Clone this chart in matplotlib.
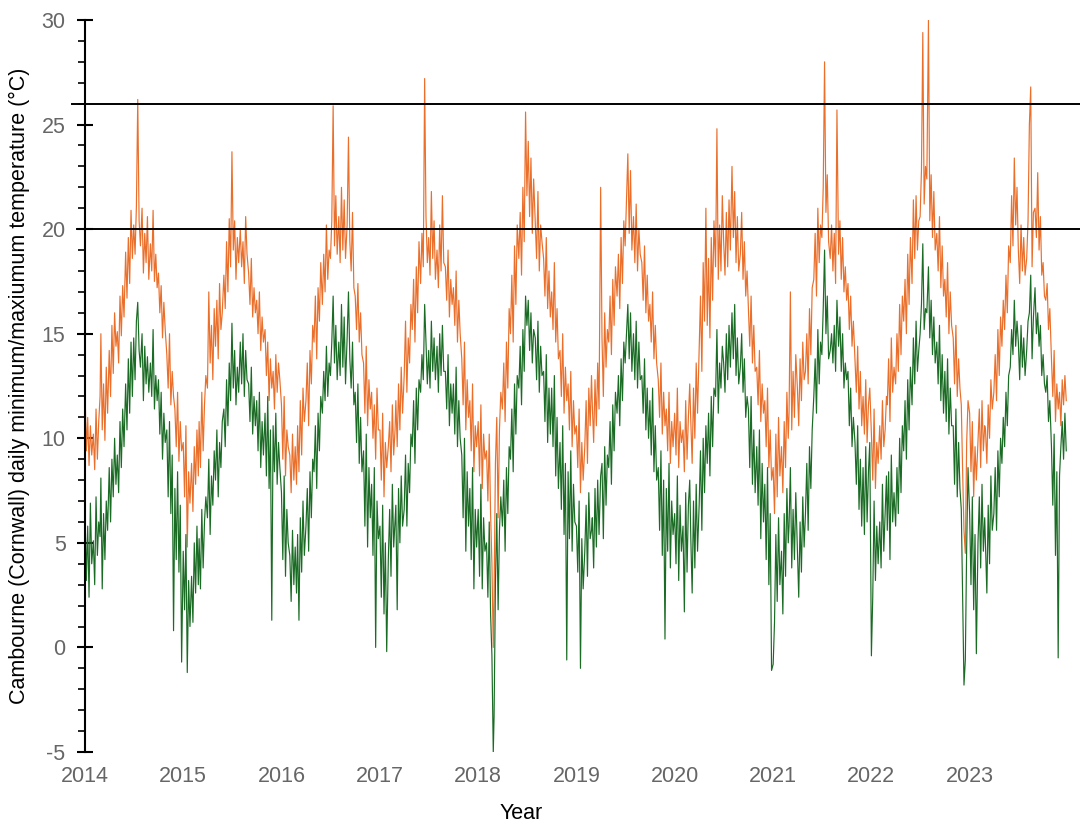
import matplotlib
matplotlib.use("Agg")
import matplotlib.pyplot as plt
from matplotlib.ticker import MultipleLocator
import pandas as pd

plt.rcParams['font.family'] = ['Liberation Sans', 'DejaVu Sans']
plt.rcParams['axes.unicode_minus'] = False

years = list(range(2014, 2024))
days_in_month = [1, 6, 11, 16, 21, 26]
year_labels = [str(y) for y in years]
hlines = [20, 26]

# Daily maximum temperature samples (6 per month)
tmax_2014 = [12.3, 9.4, 11.0, 8.7, 10.6, 9.2, 10.2, 8.5, 11.4, 9.0, 10.8, 12.0,
             15.0, 10.4, 12.6, 9.9, 13.4, 11.2, 14.2, 12.0, 15.4, 13.1, 16.0, 14.4,
             15.1, 13.6, 16.8, 14.9, 17.3, 15.8, 18.9, 16.7, 19.6, 17.4, 20.9, 18.6,
             20.2, 18.8, 21.1, 26.2, 20.4, 19.2, 21.0, 17.9, 19.8, 18.4, 20.6, 17.6,
             19.3, 18.0, 20.9, 17.5, 18.8, 17.2, 17.9, 16.0, 17.3, 14.8, 16.5, 15.2,
             14.0, 12.4, 15.0, 11.6, 13.2, 12.0, 11.4, 9.6, 12.2, 8.9, 10.8, 9.4]
tmax_2015 = [9.8, 7.2, 10.6, 4.8, 8.4, 6.9, 8.8, 6.5, 9.6, 7.8, 10.4, 8.2,
             10.8, 8.6, 12.2, 9.4, 11.6, 13.0, 12.4, 17.0, 13.6, 15.4, 12.8, 16.2,
             14.4, 16.6, 13.8, 17.4, 15.2, 16.0, 17.8, 16.2, 19.4, 17.0, 20.5, 18.2,
             23.7, 19.0, 20.4, 17.6, 19.6, 18.4, 20.0, 18.2, 19.4, 17.4, 20.6, 18.8,
             17.9, 16.4, 18.6, 15.8, 17.2, 16.0, 16.6, 15.0, 17.0, 14.2, 15.8, 14.6,
             15.2, 13.0, 14.6, 11.8, 13.8, 12.4, 13.2, 11.4, 14.0, 12.2, 13.6, 12.8]
tmax_2016 = [11.6, 9.0, 12.0, 8.2, 10.4, 9.6, 9.2, 7.4, 10.2, 8.0, 9.6, 7.8,
             10.6, 8.4, 11.8, 9.2, 12.4, 10.8, 11.8, 13.6, 10.6, 14.2, 12.6, 15.4,
             14.6, 16.8, 13.8, 17.2, 15.6, 18.4, 16.4, 18.8, 17.0, 20.2, 17.6, 19.0,
             18.6, 20.4, 25.9, 19.2, 21.6, 18.8, 20.6, 18.4, 22.0, 19.0, 21.4, 18.6,
             20.2, 24.4, 19.4, 18.0, 20.8, 17.2, 16.8, 15.2, 17.4, 14.6, 16.0, 14.0,
             13.6, 11.2, 14.4, 10.6, 12.8, 11.4, 12.2, 10.0, 11.6, 9.0, 12.4, 10.4]
tmax_2017 = [10.4, 8.0, 11.2, 7.2, 9.8, 8.6, 9.6, 10.8, 8.4, 11.6, 9.2, 10.4,
             11.8, 9.6, 12.6, 10.4, 13.4, 11.2, 13.0, 15.6, 12.2, 14.8, 13.6, 16.4,
             15.2, 17.6, 14.6, 18.2, 16.0, 19.4, 17.4, 19.8, 18.2, 27.2, 20.6, 18.4,
             19.6, 17.8, 21.8, 18.6, 20.4, 17.6, 19.0, 17.2, 20.2, 18.0, 21.6, 18.4,
             18.2, 16.6, 19.0, 15.8, 17.6, 16.4, 17.2, 15.4, 18.0, 14.6, 16.6, 15.0,
             13.8, 11.6, 14.6, 10.4, 12.8, 11.0, 11.8, 9.4, 12.6, 8.4, 10.6, 9.6]
tmax_2018 = [10.8, 8.2, 11.6, 7.6, 10.2, 9.0, 9.4, 7.0, 10.2, 6.4, 4.0, 0.0,
             2.4, 8.8, 11.0, 6.2, 10.4, 12.2, 11.4, 13.6, 10.8, 14.6, 12.4, 16.2,
             15.0, 17.8, 14.6, 19.2, 16.4, 20.2, 18.6, 20.8, 17.8, 22.0, 19.4, 25.6,
             21.6, 24.2, 20.6, 23.4, 19.8, 22.4, 20.4, 18.6, 21.8, 18.0, 20.2, 19.4,
             18.6, 16.8, 19.6, 16.2, 18.0, 15.8, 17.0, 15.2, 18.4, 14.6, 16.2, 13.8,
             14.2, 12.0, 15.0, 11.2, 13.4, 11.8, 12.6, 10.4, 13.2, 9.6, 11.8, 10.2]
tmax_2019 = [10.6, 8.6, 11.4, 7.4, 9.8, 8.0, 9.6, 11.8, 8.8, 12.4, 10.6, 13.0,
             11.6, 9.8, 12.8, 10.6, 13.6, 11.4, 22.0, 14.8, 12.0, 16.0, 13.4, 15.2,
             14.6, 16.8, 14.0, 17.6, 15.4, 18.2, 16.8, 18.8, 16.2, 19.6, 17.4, 20.4,
             19.2, 21.4, 23.6, 19.8, 22.8, 19.0, 20.6, 18.4, 21.2, 18.0, 20.0, 18.8,
             18.4, 16.6, 19.2, 16.0, 17.8, 15.6, 16.4, 14.6, 17.0, 13.8, 15.4, 13.6,
             12.8, 11.0, 13.6, 10.2, 12.2, 10.6, 11.4, 9.4, 12.2, 8.8, 10.8, 9.6]
tmax_2020 = [11.2, 9.2, 12.4, 8.6, 10.8, 9.8, 10.4, 8.4, 11.8, 9.0, 11.0, 12.6,
             10.8, 8.8, 12.4, 10.0, 13.6, 11.2, 14.2, 16.8, 13.2, 18.4, 15.6, 21.0,
             15.4, 18.6, 14.8, 19.6, 16.6, 20.4, 18.2, 24.8, 17.6, 20.2, 18.0, 21.6,
             19.4, 17.8, 20.8, 18.2, 21.4, 19.0, 23.0, 19.6, 21.8, 18.4, 20.6, 18.0,
             18.8, 20.8, 17.6, 19.4, 16.8, 18.0, 16.2, 14.4, 16.8, 13.6, 15.4, 13.2,
             13.4, 11.6, 14.2, 10.8, 12.6, 11.2, 11.8, 9.6, 12.4, 8.6, 10.4, 8.0]
tmax_2021 = [8.6, 6.4, 10.2, 7.2, 11.0, 8.2, 9.6, 7.4, 10.8, 8.6, 12.2, 10.0,
             11.2, 17.0, 10.4, 13.2, 11.0, 14.0, 12.4, 10.6, 13.8, 11.8, 14.6, 12.8,
             13.2, 15.0, 12.6, 16.2, 14.0, 17.2, 17.6, 19.8, 16.8, 21.0, 18.4, 20.2,
             19.6, 22.0, 28.0, 20.8, 22.6, 19.4, 18.6, 20.2, 18.0, 19.8, 17.4, 25.7,
             18.8, 20.4, 17.6, 19.6, 17.0, 18.2, 16.6, 17.4, 15.2, 16.8, 14.4, 15.6,
             13.8, 12.2, 14.4, 11.4, 13.2, 10.6, 12.0, 10.2, 12.8, 9.8, 11.6, 12.4]
tmax_2022 = [10.2, 8.0, 11.4, 7.6, 9.8, 8.8, 10.6, 9.0, 11.8, 9.6, 10.4, 12.0,
             11.6, 13.8, 10.8, 14.8, 12.2, 13.4, 12.6, 15.0, 13.2, 16.4, 14.0, 16.8,
             15.6, 17.6, 15.0, 18.8, 16.4, 19.6, 17.4, 21.4, 18.6, 21.6, 19.0, 20.4,
             20.6, 22.8, 29.4, 21.2, 23.0, 22.4, 30.0, 20.4, 22.6, 19.6, 21.8, 19.0,
             19.8, 18.0, 20.6, 17.2, 19.2, 16.8, 17.6, 15.8, 18.4, 15.0, 17.0, 15.4,
             14.8, 12.6, 15.4, 12.0, 13.8, 12.4, 11.6, 8.4, 5.6, 4.5, 9.8, 11.8]
tmax_2023 = [11.2, 8.4, 10.8, 7.2, 9.6, 8.0, 9.8, 11.4, 8.6, 11.8, 9.4, 10.6,
             10.4, 8.8, 11.6, 10.0, 12.8, 11.4, 12.2, 14.0, 11.8, 15.2, 13.0, 15.8,
             14.4, 16.6, 15.2, 17.8, 16.0, 19.2, 18.4, 21.6, 19.2, 23.4, 20.2, 22.0,
             19.0, 17.4, 20.2, 18.0, 19.6, 17.8, 18.6, 20.4, 25.0, 26.8, 18.2, 20.8,
             21.0, 19.6, 22.7, 19.0, 20.6, 17.8, 18.4, 16.8, 16.6, 17.4, 15.2, 16.2,
             13.8, 12.0, 14.2, 10.8, 12.6, 11.4, 12.2, 10.6, 12.8, 11.6, 13.0, 11.8]

# Daily minimum temperature samples (6 per month)
tmin_2014 = [6.5, 3.2, 5.8, 2.4, 6.9, 4.0, 5.1, 3.0, 7.2, 4.4, 6.0, 5.3,
             8.1, 2.8, 6.4, 4.2, 7.0, 5.6, 8.6, 6.0, 9.0, 7.2, 10.0, 7.8,
             9.2, 7.4, 10.8, 8.6, 11.4, 9.6, 12.6, 10.4, 13.8, 11.2, 14.6, 12.0,
             14.8, 12.8, 15.6, 16.5, 14.2, 13.4, 15.0, 11.8, 14.4, 12.6, 13.9, 12.2,
             13.6, 12.0, 15.2, 11.4, 13.0, 11.8, 12.8, 10.2, 12.2, 9.0, 11.2, 9.8,
             10.4, 7.2, 10.8, 6.4, 9.2, 0.8, 7.6, 4.2, 8.4, 3.6, 6.8, -0.7]
tmin_2015 = [4.6, 1.8, 5.4, -1.2, 3.2, 1.0, 3.4, 1.2, 5.0, 2.6, 5.8, 3.0,
             5.2, 2.8, 6.6, 3.8, 6.0, 7.2, 6.2, 9.0, 5.4, 8.2, 6.8, 9.4,
             8.0, 10.4, 7.2, 9.8, 8.6, 10.8, 11.4, 9.6, 12.8, 10.6, 13.6, 11.8,
             15.5, 12.4, 14.2, 11.6, 13.4, 12.2, 14.6, 12.6, 15.0, 12.0, 14.2, 12.8,
             12.6, 10.8, 13.4, 10.2, 12.0, 10.6, 11.8, 9.4, 12.2, 8.6, 10.8, 9.2,
             11.2, 8.2, 12.0, 7.6, 10.4, 1.3, 10.6, 8.4, 11.2, 7.8, 9.8, 8.6]
tmin_2016 = [7.4, 4.2, 8.2, 3.4, 6.6, 5.0, 4.4, 2.2, 5.6, 3.0, 4.8, 2.6,
             5.4, 1.3, 6.2, 3.6, 7.0, 4.4, 5.8, 7.6, 4.6, 8.4, 6.2, 9.0,
             8.4, 10.6, 7.6, 11.2, 9.4, 12.0, 11.2, 13.2, 11.8, 14.4, 12.0, 13.6,
             13.0, 14.6, 16.8, 13.6, 15.4, 12.8, 14.6, 13.0, 16.4, 13.4, 15.8, 12.6,
             14.8, 17.0, 13.8, 12.4, 14.6, 11.6, 12.2, 9.8, 12.6, 8.8, 11.0, 8.4,
             9.4, 5.8, 10.2, 4.8, 8.6, 6.2, 7.8, 4.4, 8.6, 0.0, 7.0, 5.2]
tmin_2017 = [5.8, 2.4, 6.8, 1.6, 5.0, -0.2, 4.2, 6.6, 3.4, 7.8, 4.8, 6.0,
             6.8, 1.8, 7.6, 5.0, 8.2, 5.8, 6.6, 9.2, 5.8, 8.8, 7.4, 10.2,
             9.6, 11.8, 8.8, 12.4, 10.4, 12.8, 12.2, 14.0, 12.8, 16.4, 14.6, 12.6,
             14.2, 12.4, 15.6, 13.2, 14.8, 12.8, 14.4, 12.2, 15.0, 13.0, 15.4, 13.2,
             13.2, 11.4, 14.0, 10.6, 12.6, 11.2, 12.6, 10.2, 13.4, 9.6, 11.8, 10.0,
             9.2, 6.2, 10.0, 4.6, 8.4, 5.8, 7.6, 4.2, 8.6, 2.8, 6.6, 4.8]
tmin_2018 = [6.6, 3.4, 7.8, 2.8, 6.2, 4.6, 5.0, 2.4, 6.0, 1.6, -0.4, -5.0,
             -3.3, 3.0, 6.4, 1.8, 5.6, 7.2, 5.8, 8.0, 4.6, 8.6, 6.4, 9.6,
             9.0, 11.4, 8.4, 12.6, 10.2, 13.0, 12.4, 14.4, 11.6, 15.2, 13.2, 16.8,
             15.4, 16.6, 14.2, 16.0, 13.6, 15.2, 14.8, 12.8, 15.6, 12.2, 14.4, 13.0,
             13.2, 10.8, 14.0, 9.8, 12.4, 10.2, 12.4, 9.6, 13.0, 8.2, 11.0, 7.6,
             9.8, 6.6, 10.6, 5.4, 8.8, -0.6, 8.4, 5.2, 9.4, 4.6, 7.8, 6.0]
tmin_2019 = [5.8, 3.6, 7.0, -1.0, 5.2, 2.8, 4.6, 6.8, 3.4, 7.4, 5.2, 5.6,
             6.2, 3.8, 7.6, 4.8, 8.0, 5.4, 8.2, 8.8, 5.2, 9.6, 6.8, 9.2,
             8.6, 10.8, 7.8, 11.6, 9.4, 12.2, 11.2, 13.0, 10.6, 13.8, 11.8, 14.6,
             13.6, 15.0, 16.4, 13.8, 16.0, 13.2, 15.0, 12.8, 15.6, 12.4, 14.6, 12.8,
             13.0, 11.2, 13.8, 10.4, 12.4, 10.0, 11.8, 9.2, 12.4, 8.4, 10.6, 8.0,
             8.6, 5.6, 9.4, 4.4, 8.0, 0.4, 7.6, 4.6, 8.8, 3.8, 7.0, 5.4]
tmin_2020 = [6.4, 4.0, 8.2, 3.2, 6.8, 4.6, 5.8, 1.7, 7.4, 3.6, 6.8, 8.0,
             5.2, 2.6, 7.0, 3.8, 7.8, 4.6, 6.8, 9.4, 5.6, 10.0, 7.4, 10.6,
             8.8, 11.2, 8.2, 12.0, 9.6, 12.4, 12.0, 15.2, 11.2, 13.6, 12.4, 14.4,
             13.6, 12.2, 15.0, 12.8, 15.4, 13.4, 16.0, 13.8, 16.4, 13.0, 14.8, 12.6,
             13.4, 15.0, 12.2, 13.8, 11.0, 12.0, 11.4, 8.6, 12.0, 7.8, 10.4, 7.4,
             9.6, 6.8, 10.4, 5.2, 8.8, 6.0, 7.8, 4.2, 8.6, 3.0, 6.4, -1.1]
tmin_2021 = [-0.8, 1.2, 5.4, 2.2, 6.2, 3.0, 4.6, 1.6, 6.4, 3.4, 7.6, 5.0,
             5.8, 8.6, 3.8, 6.6, 4.2, 7.4, 4.6, 2.4, 6.0, 3.6, 7.2, 4.8,
             6.4, 8.8, 5.6, 9.6, 7.6, 10.4, 12.0, 13.8, 11.2, 15.2, 12.6, 14.6,
             14.0, 16.2, 19.0, 15.0, 16.8, 13.8, 14.2, 15.0, 13.6, 15.4, 13.2, 16.6,
             14.4, 15.8, 13.2, 15.0, 12.4, 13.6, 12.8, 13.2, 10.6, 12.4, 9.6, 11.0,
             9.8, 7.8, 10.6, 6.6, 9.0, 5.8, 8.6, 5.4, 9.6, 6.0, 8.4, 9.8]
tmin_2022 = [-0.4, 2.4, 7.0, 3.2, 5.8, 4.0, 6.0, 3.8, 7.8, 4.6, 6.4, 8.2,
             5.6, 8.4, 4.2, 9.2, 6.0, 7.4, 5.8, 8.6, 6.4, 10.0, 7.4, 10.6,
             9.4, 11.8, 9.0, 12.8, 10.4, 13.4, 11.6, 14.8, 12.6, 15.6, 13.2, 14.2,
             15.0, 16.4, 19.3, 15.2, 16.2, 16.0, 18.2, 14.8, 16.6, 14.0, 15.8, 13.6,
             14.6, 12.6, 15.4, 11.8, 14.0, 11.2, 13.2, 10.8, 13.8, 10.2, 12.4, 10.6,
             10.6, 7.8, 11.4, 7.2, 9.8, 7.6, 6.6, 2.4, -1.8, -0.6, 4.8, 8.6]
tmin_2023 = [6.4, 3.0, 7.2, 1.8, 5.4, -0.3, 5.0, 7.2, 3.8, 7.8, 4.6, 6.2,
             4.8, 2.6, 6.8, 4.0, 8.2, 5.6, 6.4, 8.6, 5.6, 9.4, 7.2, 10.0,
             8.8, 11.0, 9.6, 12.2, 10.6, 13.0, 13.4, 15.2, 14.0, 16.6, 14.4, 15.6,
             14.6, 12.8, 15.4, 13.4, 14.8, 13.0, 14.2, 15.6, 16.0, 17.8, 13.8, 15.8,
             17.2, 15.0, 16.0, 14.4, 15.4, 13.0, 14.0, 12.6, 12.2, 13.0, 10.8, 11.8,
             9.6, 6.8, 10.2, 4.4, 8.4, -0.5, 8.2, 9.6, 10.8, 9.0, 11.2, 9.4]

tmax_all = (tmax_2014 + tmax_2015 + tmax_2016 + tmax_2017 + tmax_2018 +
            tmax_2019 + tmax_2020 + tmax_2021 + tmax_2022 + tmax_2023)
tmin_all = (tmin_2014 + tmin_2015 + tmin_2016 + tmin_2017 + tmin_2018 +
            tmin_2019 + tmin_2020 + tmin_2021 + tmin_2022 + tmin_2023)

dates = pd.to_datetime([f"{y}-{m:02d}-{d:02d}" for y in years
                        for m in range(1, 13) for d in days_in_month])

W, H = 1080, 839
FS = 15.5
fig = plt.figure(figsize=(W / 100, H / 100), dpi=100)
ax = fig.add_axes([85 / W, 1 - 752 / H, (W - 85) / W, (752 - 20) / H])

ax.plot(dates, tmax_all, color='#EA6F2B', lw=0.85)
ax.plot(dates, tmin_all, color='#1A6B24', lw=0.85)

x0 = pd.Timestamp('2014-01-01')
x1 = x0 + pd.Timedelta(days=(W - 85) / 98.3 * 365.25)
ax.set_xlim(x0, x1)
ax.set_ylim(-5, 30)

ax.axhline(hlines[0], xmin=-0.008, xmax=1, color='black', lw=1.4, clip_on=False)
ax.axhline(hlines[1], xmin=-0.013, xmax=1, color='black', lw=1.4, clip_on=False)

for s in ['top', 'right', 'bottom']:
    ax.spines[s].set_visible(False)
ax.spines['left'].set_linewidth(1.5)

ax.yaxis.set_major_locator(MultipleLocator(5))
ax.yaxis.set_minor_locator(MultipleLocator(1))
ax.tick_params(axis='y', which='major', direction='inout', length=12, width=1.5,
               labelsize=FS, labelcolor='#666666', pad=8)
ax.tick_params(axis='y', which='minor', direction='out', length=5, width=1.2)

ax.set_xticks([pd.Timestamp(f"{y}-01-01") for y in years])
ax.set_xticklabels(year_labels)
ax.tick_params(axis='x', length=0, labelsize=FS, labelcolor='#666666', pad=10)

ax.set_ylabel('Cambourne (Cornwall) daily minimum/maxiumum temperature (°C)',
              fontsize=FS, color='black')
ax.yaxis.set_label_coords(-(85 - 30) / (W - 85), 0.5)
ax.set_xlabel('Year', fontsize=FS, color='black')
ax.xaxis.set_label_coords((521 - 85) / (W - 85), -(803 - 752) / (752 - 20))

fig.savefig('out.png', dpi=100)
